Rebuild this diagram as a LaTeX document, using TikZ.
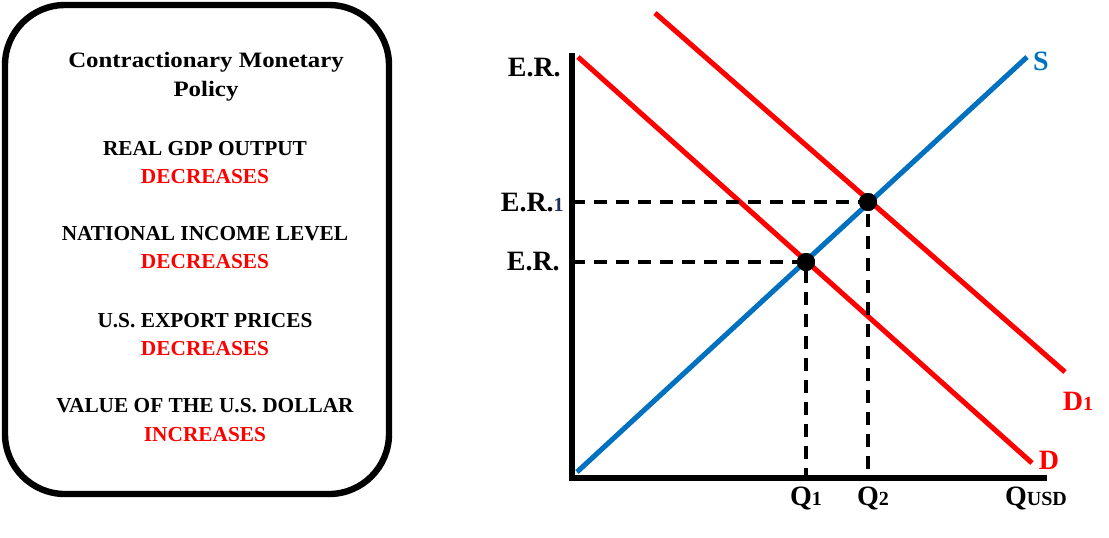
\documentclass[tikz,border=0pt]{standalone}
\usepackage{fontspec}
\setmainfont{Liberation Serif}
\newfontfamily\titlefont[FakeStretch=1.13]{Liberation Serif}
\definecolor{myred}{HTML}{FF0000}
\definecolor{myblue}{HTML}{0070C0}
\definecolor{subblue}{HTML}{1F2F5F}
\begin{document}
\begin{tikzpicture}[x=0.75pt,y=-0.75pt,
  boxtxt/.style={font=\bfseries\fontsize{16}{18}\selectfont, inner sep=0pt, anchor=base},
  titletxt/.style={font=\titlefont\bfseries\fontsize{16.5}{18}\selectfont, inner sep=0pt, anchor=base},
  grlbl/.style={font=\bfseries\fontsize{21}{24}\selectfont, inner sep=0pt},
  curve/.style={line width=3.8pt},
  axisln/.style={line width=4pt},
  dashln/.style={line width=2.4pt, dash pattern=on 10pt off 6.5pt},
  dot/.style={circle, fill=black, minimum size=13.5pt, inner sep=0pt}]
\useasboundingbox (0,0) rectangle (1109,537);
% left box
\draw[line width=4.8pt, rounded corners=45pt] (5,5) rectangle (389,494);
\node[titletxt] (t1) at (206,67) {Contractionary Monetary};
\node[titletxt] (t2) at (206,96) {Policy};
\node[boxtxt] (t3) at (205,155) {REAL GDP OUTPUT};
\node[boxtxt, text=myred] (t4) at (205,183) {DECREASES};
\node[boxtxt] (t5) at (205,240) {NATIONAL INCOME LEVEL};
\node[boxtxt, text=myred] (t6) at (205,268) {DECREASES};
\node[boxtxt] (t7) at (205,327) {U.S. EXPORT PRICES};
\node[boxtxt, text=myred] (t8) at (205,355) {DECREASES};
\node[boxtxt] (t9) at (205,412) {VALUE OF THE U.S. DOLLAR};
\node[boxtxt, text=myred] (t10) at (205,441) {INCREASES};
% graph coordinates
\coordinate (O) at (572,478);
\coordinate (Ytop) at (572,53);
\coordinate (Xend) at (1047,478);
\coordinate (Dstart) at (578,57);
\coordinate (Dend) at (1032,463);
\coordinate (D1start) at (655,13);
\coordinate (D1end) at (1065,372);
\coordinate (Sstart) at (577,472);
\coordinate (Send) at (1027,57);
\coordinate (Y1) at (572,262);
\coordinate (Y2) at (572,202);
\coordinate (X1) at (806,478);
\coordinate (X2) at (868,478);
% curves
\draw[curve, myred] (Dstart) -- (Dend);
\draw[curve, myred] (D1start) -- (D1end);
\draw[curve, myblue] (Sstart) -- (Send);
% intersection points and dashed guides
\node[dot] (E1) at (806,262) {};
\node[dot] (E2) at (868,202) {};
\draw[dashln] (Y1) -- (E1.center) -- (X1);
\draw[dashln] (Y2) -- (E2.center) -- (X2);
\node[dot] at (E1) {};
\node[dot] at (E2) {};
% axes
\draw[axisln] (Ytop) -- (O) -- (Xend);
% labels
\node[grlbl, anchor=east] (er0) at (561,68) {E.R.};
\node[grlbl, anchor=east] (er1) at (564,203) {E.R.{\fontsize{15}{15}\selectfont\color{subblue}1}};
\node[grlbl, anchor=east] (er2) at (560,262) {E.R.};
\node[grlbl, anchor=base, text=myblue] (sl) at (1041,70) {S};
\node[grlbl, anchor=base, text=myred] (d1l) at (1078,410) {D{\fontsize{15}{15}\selectfont 1}};
\node[grlbl, anchor=base, text=myred] (dl) at (1049,469) {D};
\node[grlbl, anchor=base] (q1) at (806,505) {Q{\fontsize{15}{15}\selectfont 1}};
\node[grlbl, anchor=base] (q2) at (873,505) {Q{\fontsize{15}{15}\selectfont 2}};
\node[grlbl, anchor=base] (qu) at (1036,505) {Q{\fontsize{15}{15}\selectfont USD}};
\end{tikzpicture}
\end{document}
